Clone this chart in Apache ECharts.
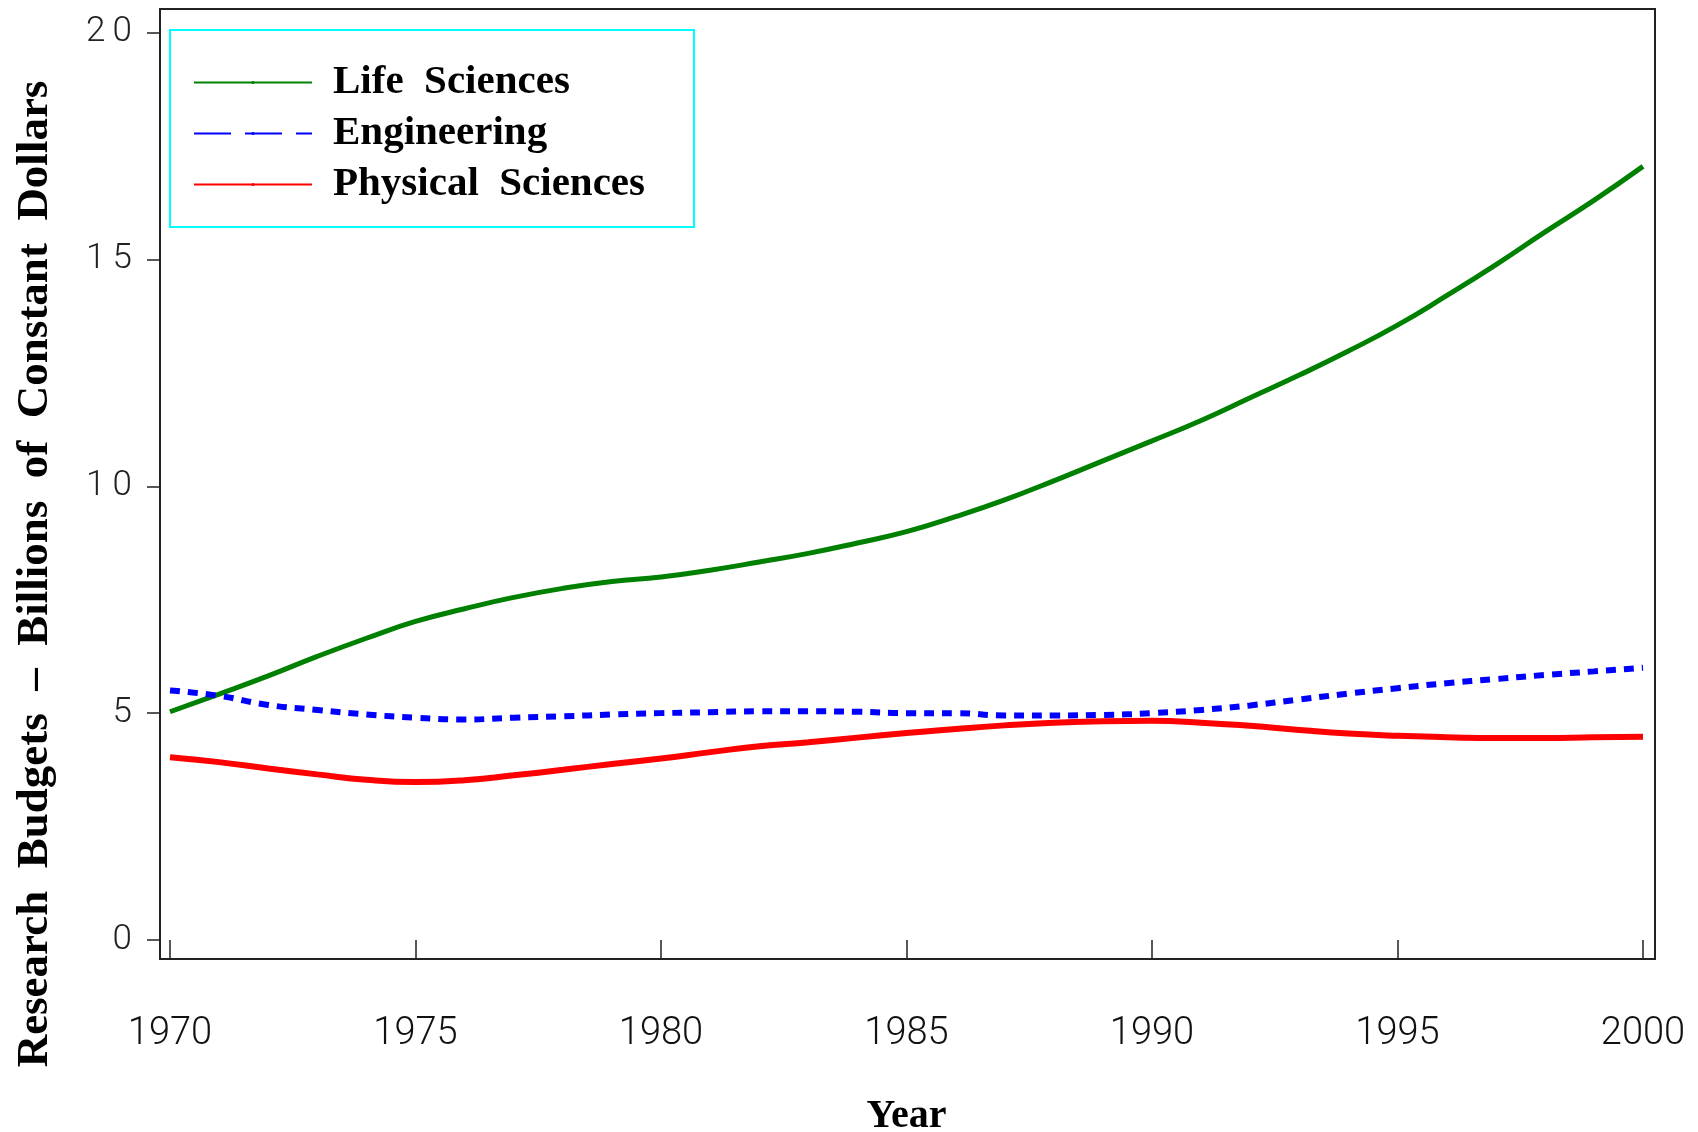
<!DOCTYPE html>
<html>
<head>
<meta charset="utf-8">
<title>Research Budgets</title>
<script src="https://cdn.jsdelivr.net/npm/echarts/dist/echarts.min.js"></script>
<style>
  html, body { margin: 0; padding: 0; background: #fff; }
  #main { width: 1698px; height: 1132px; }
</style>
</head>
<body>
<div id="main"></div>
<script>
// data, billions of constant dollars
var years = [1970, 1971, 1972, 1973, 1974, 1975, 1976, 1977, 1978, 1979,
             1980, 1981, 1982, 1983, 1984, 1985, 1986, 1987, 1988, 1989,
             1990, 1991, 1992, 1993, 1994, 1995, 1996, 1997, 1998, 1999, 2000];
var lifeSciences = [5.03, 5.42, 5.82, 6.25, 6.65, 7.02, 7.3, 7.55, 7.75, 7.9,
                    8.0, 8.15, 8.33, 8.52, 8.75, 9.0, 9.33, 9.7, 10.12, 10.56,
                    11.0, 11.45, 11.95, 12.45, 12.98, 13.55, 14.2, 14.88, 15.6, 16.3, 17.05];
var engineering = [5.5, 5.38, 5.18, 5.07, 4.97, 4.9, 4.86, 4.9, 4.93, 4.97,
                   5.0, 5.02, 5.04, 5.04, 5.03, 5.0, 5.0, 4.95, 4.95, 4.96,
                   5.0, 5.07, 5.17, 5.3, 5.43, 5.55, 5.66, 5.75, 5.84, 5.92, 6.0];
var physicalSciences = [4.03, 3.92, 3.78, 3.65, 3.53, 3.48, 3.52, 3.63, 3.75, 3.88,
                        4.0, 4.14, 4.27, 4.36, 4.46, 4.56, 4.65, 4.73, 4.79, 4.82,
                        4.83, 4.79, 4.72, 4.63, 4.55, 4.5, 4.47, 4.45, 4.45, 4.47, 4.48];
var yearTicks = [1970, 1975, 1980, 1985, 1990, 1995, 2000];
var valueTicks = [0, 5, 10, 15, 20];

function pairs(values) {
    return years.map(function (y, i) { return [y, values[i]]; });
}

// spread the digits like the old plot font
function spaced(value) {
    return String(value).split('').join('\u2009');
}

function initChart(dom) {
    var chart = echarts.init(dom, null, { renderer: 'canvas' });

    var option = {
        backgroundColor: '#fff',
        animation: false,
        legend: {
            orient: 'vertical',
            left: 193,
            top: 62,
            padding: 0,
            itemWidth: 118,
            itemHeight: 4,
            itemGap: 10,
            formatter: function (name) {
                return name.replace(' ', '  ');
            },
            textStyle: {
                fontFamily: '"Liberation Serif", serif',
                fontWeight: 'bold',
                fontSize: 41,
                lineHeight: 40,
                color: '#000',
                padding: [0, 0, 0, 16]
            },
            lineStyle: {
                width: 2
            },
            data: [
                { name: 'Life Sciences' },
                { name: 'Engineering', lineStyle: { type: [37, 14], width: 2 } },
                { name: 'Physical Sciences' }
            ]
        },
        grid: {
            left: 170,
            right: 55,
            top: 32.5,
            bottom: 192,
            containLabel: false,
            // keep the grid where it is, labels may hang outside
            outerBoundsMode: 'none'
        },
        xAxis: {
            type: 'value',
            min: yearTicks[0],
            max: yearTicks[yearTicks.length - 1],
            interval: yearTicks[1] - yearTicks[0],
            // axis sits below the data area, like the frame
            offset: 19,
            name: 'Year',
            nameLocation: 'middle',
            nameGap: 138,
            nameTextStyle: {
                fontFamily: '"Liberation Serif", serif',
                fontWeight: 'bold',
                fontSize: 40,
                color: '#000'
            },
            axisLine: { show: false },
            axisTick: {
                show: true,
                length: 20,
                lineStyle: { color: '#222', width: 1.5 }
            },
            axisLabel: {
                margin: 56,
                color: '#111',
                fontFamily: 'Roboto, sans-serif',
                fontWeight: 300,
                fontSize: 38,
                formatter: function (value) { return String(value); }
            },
            splitLine: { show: false }
        },
        yAxis: {
            type: 'value',
            min: valueTicks[0],
            max: valueTicks[valueTicks.length - 1],
            interval: valueTicks[1] - valueTicks[0],
            offset: 10,
            axisLine: { show: false },
            axisTick: {
                show: true,
                length: 13,
                lineStyle: { color: '#222', width: 1.5 }
            },
            axisLabel: {
                margin: 28,
                color: '#222',
                fontFamily: 'Roboto, sans-serif',
                fontWeight: 300,
                fontSize: 35,
                formatter: spaced
            },
            splitLine: { show: false }
        },
        graphic: [
            {
                // plot frame
                type: 'rect',
                silent: true,
                shape: { x: 160, y: 9, width: 1495, height: 950 },
                style: { fill: 'none', stroke: '#222', lineWidth: 2 }
            },
            {
                // legend box
                type: 'rect',
                silent: true,
                shape: { x: 170, y: 30, width: 524, height: 197 },
                style: { fill: 'none', stroke: '#00ffff', lineWidth: 2 }
            },
            {
                type: 'text',
                silent: true,
                x: 35,
                y: 574,
                rotation: Math.PI / 2,
                style: {
                    text: 'Research  Budgets  \u2013  Billions  of  Constant  Dollars',
                    fontFamily: '"Liberation Serif", serif',
                    fontWeight: 'bold',
                    fontSize: 45,
                    fill: '#000',
                    align: 'center',
                    verticalAlign: 'middle'
                }
            }
        ],
        series: [
            {
                name: 'Life Sciences',
                type: 'line',
                data: pairs(lifeSciences),
                smooth: true,
                symbol: 'none',
                lineStyle: { color: '#008000', width: 5 },
                itemStyle: { color: '#008000' }
            },
            {
                name: 'Engineering',
                type: 'line',
                data: pairs(engineering),
                smooth: true,
                symbol: 'none',
                lineStyle: { color: '#0000ff', width: 6, type: [10, 8], cap: 'butt' },
                itemStyle: { color: '#0000ff' }
            },
            {
                name: 'Physical Sciences',
                type: 'line',
                data: pairs(physicalSciences),
                smooth: true,
                symbol: 'none',
                lineStyle: { color: '#ff0000', width: 6 },
                itemStyle: { color: '#ff0000' }
            }
        ]
    };

    chart.setOption(option);
    return chart;
}

initChart(document.getElementById('main'));
</script>
</body>
</html>
